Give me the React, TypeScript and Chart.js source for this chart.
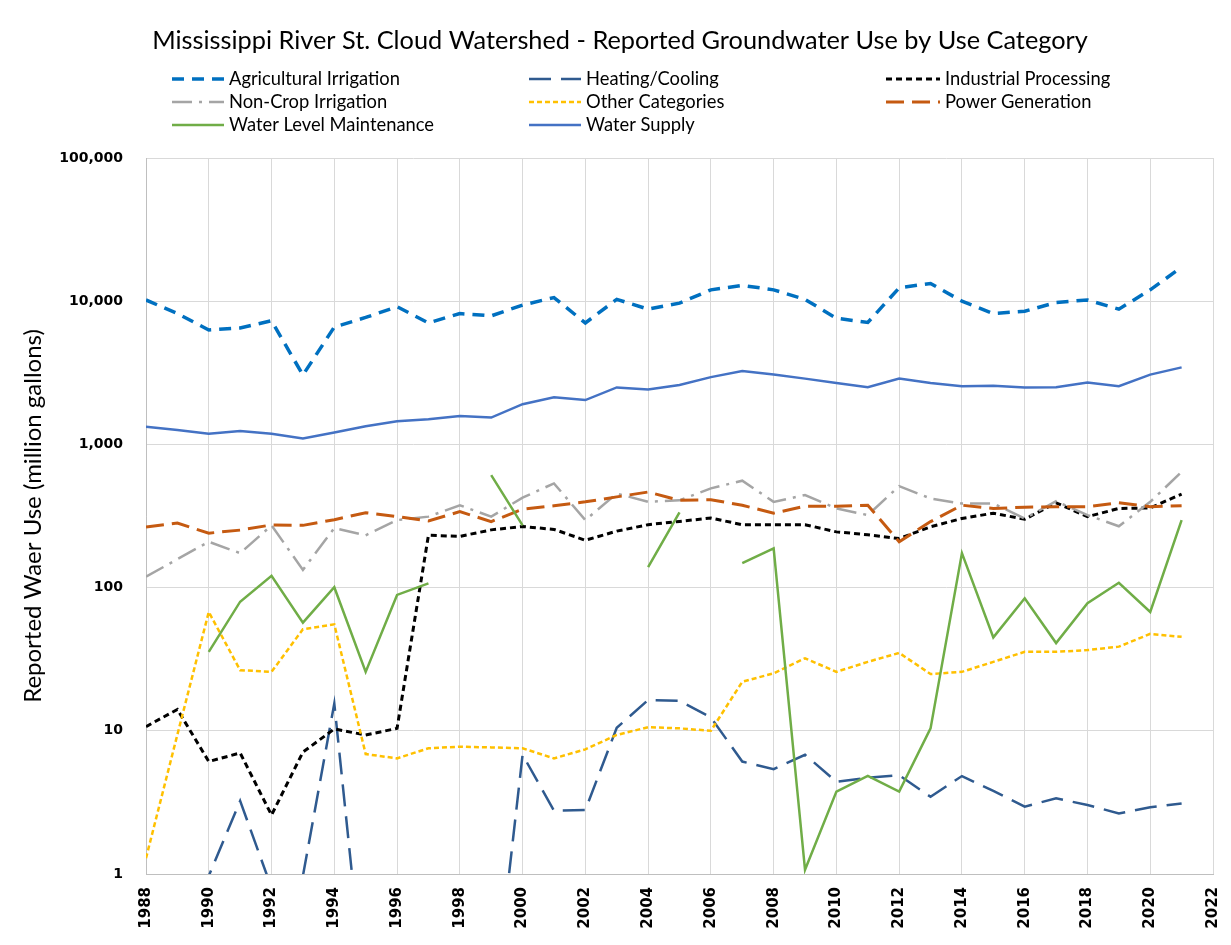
import React, { useEffect, useRef } from "react";
import { Chart, registerables } from "chart.js";

Chart.register(...registerables);

const TITLE = "Mississippi River St. Cloud Watershed - Reported Groundwater Use by Use Category";
const Y_TITLE = "Reported Waer Use (million gallons)";

const years = [
  1988, 1989, 1990, 1991, 1992, 1993, 1994, 1995, 1996, 1997, 1998, 1999, 2000, 2001, 2002, 2003, 2004,
  2005, 2006, 2007, 2008, 2009, 2010, 2011, 2012, 2013, 2014, 2015, 2016, 2017, 2018, 2019, 2020, 2021,
];

const agriculturalIrrigation = [
  10200, 8200, 6300, 6500, 7300, 3050, 6600, 7700, 9150, 7050, 8200, 7900, 9400, 10600, 7050, 10300, 8800,
  9700, 12000, 12900, 12000, 10300, 7600, 7100, 12400, 13300, 10000, 8200, 8500, 9800, 10200, 8800, 12000, 17300,
];

const heatingCooling = [
  0.1, 0.1, 0.97, 3.24, 0.8, 0.97, 15.5, 0.12, 0.1, 0.1, 0.1, 0.08, 6.8, 2.77, 2.8, 10.5, 16.4,
  16.2, 12.4, 6.1, 5.4, 6.8, 4.4, 4.7, 4.9, 3.46, 4.83, 3.8, 2.95, 3.38, 3.03, 2.65, 2.92, 3.11,
];

const industrialProcessing = [
  10.7, 14.1, 6.1, 7.0, 2.58, 7.1, 10.3, 9.35, 10.4, 232, 228, 253, 267, 255, 214, 248, 275,
  290, 306, 275, 275, 275, 245, 234, 220, 266, 304, 331, 300, 391, 313, 357, 360, 450,
];

const nonCropIrrigation = [
  119, 158, 209, 174, 272, 133, 260, 232, 296, 313, 376, 313, 425, 534, 296, 454, 397,
  407, 493, 558, 397, 443, 357, 321, 511, 419, 386, 386, 304, 401, 321, 268, 397, 643,
];

const otherCategories = [
  1.29, 9.4, 67.6, 26.5, 25.8, 51.2, 55.4, 6.88, 6.42, 7.55, 7.74, 7.66, 7.55, 6.42, 7.42, 9.35, 10.6,
  10.4, 10.0, 22.0, 25.2, 32.1, 25.8, 30.3, 35.0, 24.9, 25.8, 30.3, 35.6, 35.6, 36.6, 38.7, 47.5, 45.3,
];

const powerGeneration = [
  265, 282, 240, 252, 274, 272, 298, 333, 313, 292, 339, 289, 353, 373, 397, 430, 465,
  407, 411, 376, 331, 370, 370, 376, 209, 289, 376, 357, 364, 367, 367, 391, 367, 373,
];

const waterLevelMaintenance = [
  null, null, 35.6, 79.7, 121, 56.9, 100.6, 25.8, 88.9, 107, null, 610, 272, null, null, null, 139,
  335, null, 148, 188, 1.07, 3.76, 4.85, 3.76, 10.4, 174, 44.9, 84.2, 41, 77.8, 108, 67.6, 296,
];

const waterSupply = [
  1330, 1260, 1185, 1240, 1185, 1100, 1210, 1340, 1450, 1500, 1580, 1540, 1910, 2130, 2040, 2500, 2420,
  2600, 2950, 3250, 3080, 2880, 2680, 2510, 2880, 2680, 2550, 2570, 2500, 2510, 2710, 2550, 3070, 3450,
];

const yTickValues = [1, 10, 100, 1000, 10000, 100000];

type SeriesDef = {
  label: string;
  data: (number | null)[];
  color: string;
  dash: number[];
  width: number;
};

const series: SeriesDef[] = [
  { label: "Agricultural Irrigation", data: agriculturalIrrigation, color: "#0070C0", dash: [12, 8], width: 3.5 },
  { label: "Heating/Cooling", data: heatingCooling, color: "#2F5A8F", dash: [22, 10], width: 2.5 },
  { label: "Industrial Processing", data: industrialProcessing, color: "#000000", dash: [6, 4], width: 3 },
  { label: "Non-Crop Irrigation", data: nonCropIrrigation, color: "#A5A5A5", dash: [20, 7, 3, 7], width: 2.5 },
  { label: "Other Categories", data: otherCategories, color: "#FFC000", dash: [5, 3], width: 2.5 },
  { label: "Power Generation", data: powerGeneration, color: "#C55A11", dash: [18, 8], width: 3 },
  { label: "Water Level Maintenance", data: waterLevelMaintenance, color: "#70AD47", dash: [], width: 2.5 },
  { label: "Water Supply", data: waterSupply, color: "#4472C4", dash: [], width: 2.5 },
];

const legendSampleX = [
  [172, 224],
  [529, 581],
  [886, 940],
];
const legendTextX = [229, 586, 945];
const legendRowY = [79, 102, 125];

const titleLegendPlugin = {
  id: "titleLegend",
  afterDraw(chart: any) {
    const ctx: CanvasRenderingContext2D = chart.ctx;
    ctx.save();
    ctx.font = "24px Lato";
    const tw = ctx.measureText(TITLE).width;
    const tfs = (24 * 936) / tw;
    ctx.font = `${tfs}px Lato`;
    ctx.fillStyle = "#000";
    ctx.textAlign = "center";
    ctx.textBaseline = "middle";
    ctx.fillText(TITLE, 620, 41);

    ctx.font = "16px Lato";
    const lw = ctx.measureText(series[0].label).width;
    const lfs = (16 * 171) / lw;
    ctx.font = `${lfs}px Lato`;
    ctx.textAlign = "left";
    series.forEach((s, i) => {
      const col = i % 3;
      const row = Math.floor(i / 3);
      const y = legendRowY[row];
      ctx.beginPath();
      ctx.setLineDash(s.dash);
      ctx.strokeStyle = s.color;
      ctx.lineWidth = s.width;
      ctx.moveTo(legendSampleX[col][0], y);
      ctx.lineTo(legendSampleX[col][1], y);
      ctx.stroke();
      ctx.setLineDash([]);
      ctx.fillStyle = "#000";
      ctx.fillText(s.label, legendTextX[col], y);
    });
    ctx.restore();
  },
};

export default function App() {
  const canvasRef = useRef<HTMLCanvasElement | null>(null);

  useEffect(() => {
    if (!canvasRef.current) return;
    const chart = new Chart(canvasRef.current, {
      type: "line",
      data: {
        datasets: series.map((s, i) => ({
          label: s.label,
          data: years.map((yr, k) => ({ x: yr, y: s.data[k] })),
          borderColor: s.color,
          backgroundColor: s.color,
          borderDash: s.dash,
          borderWidth: s.width,
          pointRadius: 0,
          pointHoverRadius: 0,
          tension: 0,
          spanGaps: false,
          fill: false,
          order: series.length - i,
        })),
      },
      options: {
        responsive: false,
        animation: false,
        layout: { padding: { top: 158, right: 18, left: 0, bottom: 0 } },
        plugins: {
          legend: { display: false },
          title: { display: false },
          tooltip: { enabled: false },
        },
        scales: {
          x: {
            type: "linear",
            min: 1988,
            max: 2022,
            ticks: {
              stepSize: 2,
              autoSkip: false,
              maxRotation: 90,
              minRotation: 90,
              padding: 13,
              color: "#000",
              font: { family: "DejaVu Sans", size: 15, weight: "bold" },
              callback: (v: any) => String(v),
            },
            grid: { color: "#D9D9D9", lineWidth: 1, drawTicks: false },
            border: { color: "#BFBFBF", width: 1 },
            afterFit: (scale: any) => {
              scale.height = 71;
              scale.paddingLeft = 0;
              scale.paddingRight = 0;
            },
          },
          y: {
            type: "logarithmic",
            min: 1,
            max: 100000,
            afterBuildTicks: (scale: any) => {
              scale.ticks = yTickValues.map((v) => ({ value: v }));
            },
            ticks: {
              padding: 23,
              color: "#000",
              font: { family: "DejaVu Sans", size: 14, weight: "bold" },
              callback: (v: any) => Number(v).toLocaleString("en-US"),
            },
            grid: { color: "#D9D9D9", lineWidth: 1, drawTicks: false },
            border: { color: "#BFBFBF", width: 1 },
            title: {
              display: true,
              text: Y_TITLE,
              color: "#000",
              font: { family: "Lato", size: 24 },
              padding: { top: 19, bottom: 0 },
            },
            afterFit: (scale: any) => {
              scale.width = 146;
              scale.paddingTop = 0;
              scale.paddingBottom = 0;
            },
          },
        },
      },
      plugins: [titleLegendPlugin],
    });
    return () => chart.destroy();
  }, []);

  return (
    <div style={{ position: "fixed", left: 0, top: 0, width: 1231, height: 945, background: "#fff" }}>
      <canvas ref={canvasRef} width={1231} height={945} style={{ width: 1231, height: 945 }} />
    </div>
  );
}
